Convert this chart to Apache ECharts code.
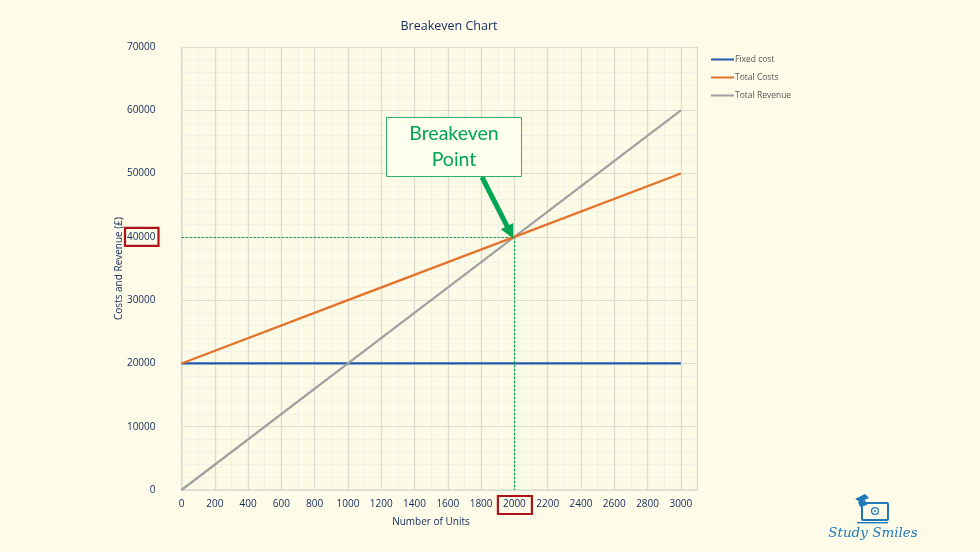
<!DOCTYPE html>
<html>
<head>
<meta charset="utf-8">
<style>html,body{margin:0;padding:0;background:#fefce9}#c{width:980px;height:552px}</style>
<script src="https://cdn.jsdelivr.net/npm/echarts@6/dist/echarts.min.js"></script>
</head>
<body>
<div id="c"></div>
<script>
const units = [0, 1000, 2000, 3000];
const fixedCost = [20000, 20000, 20000, 20000];
const totalCosts = [20000, 30000, 40000, 50000];
const totalRevenue = [0, 20000, 40000, 60000];
const breakevenUnits = 2000;
const breakevenValue = 40000;
const arrowTail = [1805, 49460];
const arrowHead = [1975, 40700];
const seriesNames = ['Fixed cost', 'Total Costs', 'Total Revenue'];
const FONT = '"Open Sans", sans-serif';
const INK = '#12295c';
const GREEN = '#00a651';
const RED = '#b01217';
const zip = v => units.map((u, i) => [u, v[i]]);

const chart = echarts.init(document.getElementById('c'), null, {renderer: 'canvas'});
chart.setOption({
  animation: false,
  backgroundColor: '#fefce9',
  textStyle: {fontFamily: FONT},
  title: {text: 'Breakeven Chart', left: 444, top: 15, textAlign: 'center',
    textStyle: {color: INK, fontSize: 12.5, fontWeight: 'normal', fontFamily: FONT}},
  legend: {orient: 'vertical', left: 706, top: 50, itemWidth: 23, itemHeight: 2, itemGap: 9,
    icon: 'rect', data: seriesNames,
    textStyle: {color: '#555', fontSize: 8.5, fontFamily: FONT, padding: [0, 0, 0, -4]}},
  grid: {left: 181.5, top: 47, width: 516, height: 443, backgroundColor: '#fbfbe6', show: true, borderWidth: 0},
  xAxis: {type: 'value', min: 0, max: 3100, interval: 200, minorTick: {show: false, splitNumber: 2},
    name: 'Number of Units', nameLocation: 'middle', nameGap: 27,
    nameTextStyle: {color: INK, fontSize: 10, fontFamily: FONT, padding: [0, 17, 0, 0]},
    axisLine: {show: true, lineStyle: {color: '#dcdcd4', width: 1.5}},
    axisTick: {show: false},
    axisLabel: {margin: 9, showMaxLabel: false, color: INK, fontSize: 10, fontFamily: FONT, formatter: v => String(v)},
    splitLine: {show: true, lineStyle: {color: '#dcdcd4', width: 1.3}},
    minorSplitLine: {show: true, lineStyle: {color: '#f1f1ea', width: 1}}},
  yAxis: {type: 'value', min: 0, max: 70000, interval: 10000, minorTick: {show: false, splitNumber: 5},
    name: 'Costs and Revenue (£)', nameLocation: 'middle', nameGap: 57, nameMoveOverlap: false,
    nameTextStyle: {color: INK, fontSize: 10, fontFamily: FONT},
    axisLine: {show: true, lineStyle: {color: '#dcdcd4', width: 1.5}},
    axisTick: {show: false},
    axisLabel: {margin: 26, color: INK, fontSize: 10, fontFamily: FONT, padding: [2, 0, 0, 0], formatter: v => String(v)},
    splitLine: {show: true, lineStyle: {color: '#dcdcd4', width: 1}},
    minorSplitLine: {show: true, lineStyle: {color: '#f1f1ea', width: 1}}},
  series: [
    {name: seriesNames[0], type: 'line', data: zip(fixedCost), symbol: 'none', z: 3,
     itemStyle: {color: '#2158a8'}, lineStyle: {color: '#2158a8', width: 2.2},
     markLine: {silent: true, symbol: 'none', label: {show: false}, animation: false,
       lineStyle: {color: GREEN, type: [2.5, 1.5], width: 1.1},
       data: [
         [{coord: [0, breakevenValue]}, {coord: [breakevenUnits, breakevenValue]}],
         [{coord: [breakevenUnits, breakevenValue]}, {coord: [breakevenUnits, 0]}]
       ]}},
    {name: seriesNames[1], type: 'line', data: zip(totalCosts), symbol: 'none', z: 5,
     itemStyle: {color: '#e5722a'}, lineStyle: {color: '#e5722a', width: 2.2},
     markLine: {silent: true, symbol: ['none', 'triangle'], symbolSize: 14, label: {show: false}, animation: false, z: 6,
       lineStyle: {color: GREEN, type: 'solid', width: 5},
       data: [[{coord: arrowTail}, {coord: arrowHead}]]}},
    {name: seriesNames[2], type: 'line', data: zip(totalRevenue), symbol: 'none', z: 4,
     itemStyle: {color: '#a0a0a0'}, lineStyle: {color: '#a0a0a0', width: 2.2}}
  ]
});
const bx = chart.convertToPixel({xAxisIndex: 0}, breakevenUnits);
const by = chart.convertToPixel({yAxisIndex: 0}, breakevenValue);
chart.setOption({graphic: [
    {type: 'rect', z: 20, shape: {x: bx - 16.5, y: 496, width: 34, height: 18}, style: {fill: 'none', stroke: RED, lineWidth: 2.2}},
    {type: 'rect', z: 20, shape: {x: 125, y: by - 9, width: 33.5, height: 18}, style: {fill: 'none', stroke: RED, lineWidth: 2.2}},
    {type: 'rect', z: 20, shape: {x: 386.5, y: 117.5, width: 135, height: 59},
     style: {fill: '#fffff0', stroke: '#2fae6c', lineWidth: 1}},
    {type: 'text', z: 21, x: 454, y: 146.5,
     style: {text: 'Breakeven\nPoint', fill: GREEN, font: '19.5px Lato, sans-serif', lineHeight: 26, align: 'center', verticalAlign: 'middle'}},
    {type: 'group', z: 20, children: [
      {type: 'rect', shape: {x: 862, y: 503, width: 26, height: 17, r: 1}, style: {fill: 'none', stroke: '#1f78b8', lineWidth: 2}},
      {type: 'circle', shape: {cx: 875, cy: 511, r: 3.4}, style: {fill: 'none', stroke: '#1f78b8', lineWidth: 1.3}},
      {type: 'circle', shape: {cx: 875, cy: 511, r: 1}, style: {fill: '#1f78b8'}},
      {type: 'rect', shape: {x: 857, y: 522, width: 31, height: 1.4}, style: {fill: '#1f78b8'}},
      {type: 'polygon', shape: {points: [[855, 499], [865, 494], [869, 498], [860, 502]]}, style: {fill: '#1f78b8'}},
      {type: 'polygon', shape: {points: [[858, 502], [865, 500], [867, 505], [860, 507]]}, style: {fill: '#1f78b8'}},
      {type: 'text', x: 873, y: 533,
       style: {text: 'Study Smiles', fill: '#1f78b8', font: 'italic 13.5px "DejaVu Serif", serif', align: 'center', verticalAlign: 'middle'}}
    ]}
]});
</script>
</body>
</html>
